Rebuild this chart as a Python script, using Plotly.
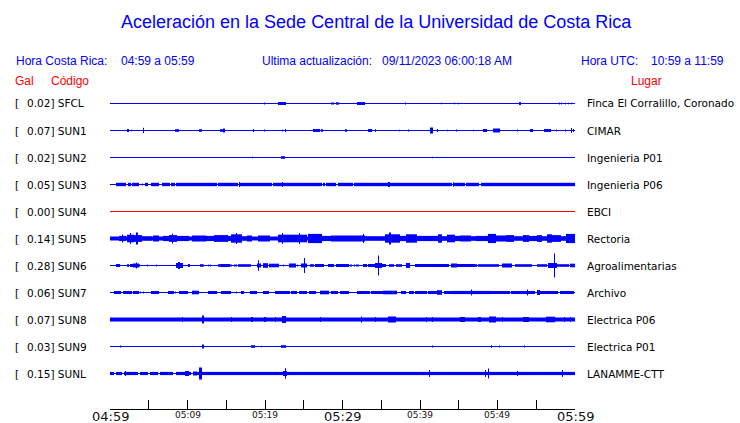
import plotly.graph_objects as go

# ---------------- data ----------------
codes = ["SFCL", "SUN1", "SUN2", "SUN3", "SUN4", "SUN5", "SUN6", "SUN7", "SUN8", "SUN9", "SUNL"]
gal = ["0.02", "0.07", "0.02", "0.05", "0.00", "0.14", "0.28", "0.06", "0.07", "0.03", "0.15"]
places = ["Finca El Corralillo, Coronado", "CIMAR", "Ingenieria P01", "Ingenieria P06", "EBCI",
          "Rectoria", "Agroalimentarias", "Archivo", "Electrica P06", "Electrica P01", "LANAMME-CTT"]

# background (continuous) half-amplitude of each record, relative units
base_amp = [0.5, 0.5, 0.5, 0.5, 0.5, 2.0, 0.5, 0.5, 2.0, 0.5, 1.6]

# events: (start minute, end minute after 04:59, half-amplitude)
ev_sfcl = [(19.9, 19.9, 1.0), (21.7, 22.7, 1.5), (28.6, 28.9, 1.0), (29.2, 29.5, 1.2), (31.9, 32.8, 1.5),
           (38.1, 38.1, 1.0), (42.8, 42.8, 0.8), (44.5, 44.5, 0.8), (45.0, 45.0, 0.8), (52.8, 53.0, 1.5),
           (58.0, 58.0, 1.0), (58.3, 58.3, 1.0), (58.8, 58.8, 0.8), (59.2, 59.2, 0.8), (59.5, 59.5, 0.8)]
ev_sun1 = [(2.2, 2.4, 1.5), (2.8, 2.8, 0.8), (4.3, 4.3, 2.7), (8.5, 8.9, 1.3), (11.6, 11.8, 1.3),
           (14.2, 14.5, 1.3), (14.6, 14.8, 2.0), (18.5, 18.5, 1.5), (19.9, 19.9, 1.0), (22.2, 22.2, 1.0),
           (22.6, 22.6, 1.5), (26.2, 27.0, 1.5), (27.3, 27.4, 1.3), (30.4, 30.5, 1.3), (33.4, 33.8, 1.5),
           (34.2, 34.2, 1.3), (37.3, 37.3, 0.8), (38.5, 38.5, 1.0), (41.3, 41.6, 3.0), (42.2, 42.3, 1.5),
           (43.5, 43.5, 0.8), (44.7, 44.7, 1.0), (46.9, 46.9, 0.8), (48.2, 48.6, 1.5), (49.5, 50.3, 2.0),
           (52.6, 52.6, 1.0), (54.2, 54.5, 1.5), (56.1, 56.9, 1.5), (57.6, 57.6, 1.0), (58.8, 58.8, 1.0),
           (59.5, 59.5, 2.5), (59.8, 59.8, 1.5)]
ev_sun2 = [(18.4, 18.4, 0.8), (22.1, 22.5, 1.3), (41.6, 41.6, 0.8)]
ev_sun3 = [(0.8, 2.0, 1.7), (2.4, 2.6, 1.7), (2.9, 3.1, 1.7), (3.2, 3.7, 1.7), (4.2, 4.2, 1.0),
           (4.6, 4.9, 1.7), (5.4, 5.7, 1.7), (5.9, 6.3, 1.7), (6.8, 7.7, 1.7), (7.9, 8.3, 1.7),
           (8.6, 9.9, 1.7), (10.0, 13.3, 1.7), (13.5, 13.8, 1.7), (14.0, 16.5, 1.7), (16.7, 16.7, 2.5),
           (16.8, 20.4, 1.7), (20.6, 20.9, 1.7), (21.1, 22.2, 1.7), (22.2, 22.2, 2.5), (22.4, 25.2, 1.7),
           (25.4, 27.3, 1.7), (27.5, 27.7, 1.7), (28.0, 28.4, 1.7), (28.6, 29.1, 1.7), (29.5, 31.3, 1.7),
           (31.6, 35.9, 1.7), (36.0, 36.0, 2.5), (36.1, 43.0, 1.7), (43.2, 44.1, 1.7), (44.3, 44.3, 2.3),
           (44.5, 45.8, 1.7), (46.0, 47.6, 1.7), (48.0, 51.2, 1.7), (51.3, 55.3, 1.7), (55.4, 60.0, 1.7)]
ev_sun4 = []
ev_sun5 = [(1.2, 2.0, 2.6), (1.6, 1.6, 4.0), (2.2, 3.0, 3.8), (2.6, 2.6, 5.5), (3.1, 4.1, 3.4), (3.4, 3.5, 6.0),
           (4.1, 5.4, 2.3), (5.6, 6.3, 3.0), (6.9, 7.7, 2.6), (7.7, 8.6, 3.4), (8.1, 8.1, 5.0),
           (8.6, 10.1, 2.6), (10.7, 12.3, 3.0), (12.3, 13.5, 2.6), (13.5, 15.1, 3.4), (15.1, 15.5, 2.6),
           (15.7, 17.0, 4.2), (16.3, 16.3, 5.5), (17.0, 17.8, 2.3), (17.8, 18.3, 3.0), (19.1, 20.6, 3.0),
           (21.7, 25.4, 3.8), (22.3, 22.3, 5.5), (24.5, 24.5, 5.5), (25.6, 27.3, 4.6), (27.3, 28.6, 2.6),
           (28.6, 30.8, 3.0), (30.8, 32.9, 3.0), (32.7, 32.7, 4.5), (32.9, 35.5, 2.3), (35.5, 37.4, 4.2),
           (36.1, 36.2, 6.0), (37.4, 38.3, 2.6), (38.3, 39.6, 4.2), (39.6, 42.4, 2.6), (42.4, 42.8, 4.2),
           (42.8, 43.6, 2.3), (43.6, 44.5, 3.8), (44.5, 46.1, 2.6), (45.2, 46.5, 3.0), (46.5, 47.3, 2.3),
           (47.3, 48.8, 2.6), (48.8, 49.7, 4.6), (49.7, 51.2, 3.0), (51.2, 52.0, 3.4), (52.0, 53.3, 2.3),
           (53.3, 54.0, 3.4), (54.0, 55.1, 2.6), (55.1, 55.7, 3.4), (55.7, 56.4, 2.3), (56.4, 57.0, 4.2),
           (57.0, 58.1, 3.4), (58.1, 58.9, 2.3), (58.9, 60.0, 4.6)]
ev_sun6 = [(0.9, 1.2, 1.5), (2.2, 2.4, 1.3), (2.6, 2.9, 1.5), (3.0, 3.7, 2.0), (3.4, 3.4, 3.0), (3.8, 3.8, 1.3),
           (4.8, 4.8, 1.0), (6.0, 6.0, 1.0), (8.6, 9.3, 2.5), (8.9, 9.0, 3.5), (10.1, 10.3, 1.5),
           (11.7, 11.9, 1.3), (12.1, 12.1, 1.0), (12.7, 12.7, 1.0), (13.0, 13.0, 1.0), (14.0, 14.2, 1.3),
           (14.4, 15.4, 1.5), (15.5, 15.7, 1.0), (16.1, 16.3, 1.0), (16.6, 18.1, 1.3), (19.0, 19.4, 2.0),
           (19.1, 19.1, 5.3), (19.8, 20.3, 2.3), (20.6, 21.7, 1.8), (22.4, 22.4, 1.0), (23.2, 23.9, 2.0),
           (24.2, 24.2, 1.0), (24.7, 25.4, 2.0), (25.1, 25.1, 7.5), (25.9, 26.2, 1.3), (26.5, 27.5, 1.5),
           (28.2, 28.8, 1.5), (29.2, 30.8, 1.5), (31.0, 31.2, 1.0), (31.6, 31.6, 1.0), (31.8, 32.0, 1.0),
           (32.7, 33.1, 1.5), (33.3, 35.5, 1.5), (34.3, 35.0, 2.5), (34.6, 34.6, 10.0), (36.1, 36.6, 1.3),
           (37.0, 37.6, 1.3), (38.3, 38.7, 2.5), (39.4, 41.7, 1.5), (41.9, 43.7, 1.5), (44.1, 44.7, 2.0),
           (44.9, 47.0, 1.5), (47.1, 47.3, 1.3), (47.5, 48.8, 1.3), (49.0, 50.1, 1.3), (50.7, 51.8, 2.0),
           (52.3, 54.4, 1.3), (55.1, 56.3, 1.3), (56.6, 57.6, 2.5), (57.3, 57.3, 12.0), (57.8, 59.1, 1.3),
           (59.4, 60.0, 1.8)]
ev_sun7 = [(0.6, 1.3, 1.5), (1.7, 2.8, 1.5), (3.0, 3.3, 1.5), (3.4, 3.7, 1.5), (3.9, 3.9, 1.0), (4.3, 4.3, 1.0),
           (5.3, 6.2, 1.5), (7.6, 8.2, 1.5), (8.4, 8.4, 1.0), (9.0, 10.0, 1.5), (10.7, 11.4, 1.8),
           (12.7, 13.8, 1.5), (14.4, 15.5, 1.5), (16.3, 16.3, 1.0), (17.0, 17.2, 1.5), (18.1, 18.9, 1.5),
           (19.8, 20.4, 1.5), (21.3, 21.7, 1.5), (21.9, 22.6, 1.5), (22.8, 23.2, 1.5), (23.4, 24.1, 1.5),
           (24.5, 25.4, 1.5), (25.8, 26.5, 1.5), (27.1, 28.2, 1.8), (28.6, 29.3, 1.5), (29.7, 30.8, 1.5),
           (32.0, 33.5, 1.5), (33.8, 35.1, 1.5), (35.3, 37.0, 1.8), (37.6, 38.1, 1.5), (38.7, 39.1, 1.5),
           (39.4, 40.0, 1.5), (40.2, 40.9, 1.5), (41.1, 42.2, 1.5), (42.2, 42.8, 2.3), (43.2, 44.1, 1.5),
           (44.1, 49.0, 1.6), (46.6, 46.6, 3.0), (49.0, 51.6, 1.5), (51.8, 53.8, 1.5), (53.9, 53.9, 3.0),
           (54.0, 54.8, 1.5), (55.1, 55.4, 2.5), (55.5, 57.8, 1.5), (58.1, 59.8, 1.5)]
ev_sun8 = [(9.3, 9.3, 2.5), (12.0, 12.0, 4.0), (15.7, 15.7, 2.5), (18.2, 18.2, 2.5), (18.4, 18.4, 2.5),
           (20.0, 20.0, 2.5), (21.3, 21.3, 2.5), (22.2, 22.6, 3.5), (27.2, 27.2, 2.5), (32.5, 32.5, 3.0),
           (34.3, 34.3, 2.5), (36.0, 36.8, 3.0), (40.8, 40.8, 2.5), (41.6, 41.6, 2.5), (45.2, 45.6, 2.5),
           (45.7, 45.7, 2.5), (47.5, 47.8, 2.5), (49.0, 49.8, 3.0), (50.7, 50.7, 2.5), (53.3, 54.0, 2.5),
           (56.3, 57.4, 2.8), (58.7, 58.7, 2.5), (59.4, 59.4, 2.5)]
ev_sun9 = [(1.4, 1.4, 1.0), (12.0, 12.0, 2.0), (18.3, 18.6, 1.3), (19.6, 19.6, 0.8), (22.1, 22.7, 1.3),
           (41.6, 41.6, 1.0), (49.2, 49.2, 1.3), (50.2, 50.2, 1.0), (53.5, 53.5, 1.0)]
ev_sunl = [(0.55, 0.73, 0.5), (1.6, 1.8, 0.5), (3.65, 3.87, 0.5), (4.94, 5.16, 0.5), (6.23, 6.45, 0.5),
           (8.17, 8.39, 0.5), (10.54, 10.75, 0.5),
           (2.0, 2.0, 2.5), (9.7, 10.1, 2.5), (10.8, 11.2, 2.0), (11.6, 11.8, 6.0), (22.4, 22.8, 2.5),
           (22.6, 22.6, 5.3), (41.2, 41.2, 3.5), (48.4, 48.4, 3.5), (48.9, 48.9, 5.0), (52.6, 52.6, 2.5),
           (58.4, 58.4, 3.5)]
events = [ev_sfcl, ev_sun1, ev_sun2, ev_sun3, ev_sun4, ev_sun5, ev_sun6, ev_sun7, ev_sun8, ev_sun9, ev_sunl]

tick_minutes = list(range(0, 61, 5))
tick_labels = ["04:59", "", "05:09", "", "05:19", "", "05:29", "", "05:39", "", "05:49", "", "05:59"]
major_labels = ["04:59", "05:29", "05:59"]

title_text = "Aceleración en la Sede Central de la Universidad de Costa Rica"

# ---------------- layout constants ----------------
W, H = 740, 423
X0, X1 = 110, 575          # plot x extent (px)
AXIS_Y = 409               # x-axis line (px from top)
ROW0, ROW_STEP = 103.5, 27
BLUE, RED = "#0000FF", "#FF0000"
row_colors = [BLUE, BLUE, BLUE, BLUE, RED, BLUE, BLUE, BLUE, BLUE, BLUE, BLUE]
NCOL = X1 - X0
T_END = 60.0

fig = go.Figure()

for i, code in enumerate(codes):
    yc = ROW0 + ROW_STEP * i
    col = row_colors[i]
    # horizontal trace line
    fig.add_trace(go.Scatter(x=[0, T_END], y=[yc, yc], mode="lines",
                             line=dict(color=col, width=1), hoverinfo="skip", showlegend=False))
    base = base_amp[i]
    half = T_END / NCOL / 2
    env = [base] * NCOL
    for (a, b, amp) in events[i]:
        for k in range(NCOL):
            t = (k + 0.5) * T_END / NCOL
            if a - half <= t <= b + half:
                env[k] = amp if amp < base else max(env[k], amp)
    xs, ys = [], []
    for k in range(NCOL):
        if env[k] > 0.5:
            t = (k + 0.5) * T_END / NCOL
            xs += [t, t, None]
            ys += [yc - env[k], yc + env[k], None]
    if xs:
        fig.add_trace(go.Scatter(x=xs, y=ys, mode="lines", line=dict(color=col, width=1),
                                 hoverinfo="skip", showlegend=False, connectgaps=False))

annotations = []


def txt(px, py, text, size, color, anchor="left", family="DejaVu Sans"):
    annotations.append(dict(x=px / W, y=1 - py / H, xref="paper", yref="paper", text=text,
                            showarrow=False, xanchor=anchor, yanchor="middle",
                            font=dict(family=family, size=size, color=color), borderpad=0))


LS = "Liberation Sans, Arial, sans-serif"
txt(376, 22, title_text, 18, BLUE, "center", LS)
txt(14.5, 61, "Hora Costa Rica:", 12, BLUE, "left", LS)
txt(119.5, 61, "04:59 a 05:59", 12, BLUE, "left", LS)
txt(261, 61, "Ultima actualización:", 12, BLUE, "left", LS)
txt(381, 61, "09/11/2023 06:00:18 AM", 12, BLUE, "left", LS)
txt(579.5, 61, "Hora UTC:", 12, BLUE, "left", LS)
txt(649.5, 61, "10:59 a 11:59", 12, BLUE, "left", LS)
txt(14, 81, "Gal", 12, RED, "left", LS)
txt(49.5, 81, "Código", 12, RED, "left", LS)
txt(629.5, 81, "Lugar", 12, RED, "left", LS)

for i, code in enumerate(codes):
    yc = ROW0 + ROW_STEP * i
    txt(14, yc, "[", 10.5, "black")
    txt(26, yc, gal[i] + "] " + code, 10.5, "black")
    txt(586, yc, places[i], 10.5, "black")

for tm, lab in zip(tick_minutes, tick_labels):
    if not lab:
        continue
    px = X0 + (X1 - X0) * tm / T_END
    if lab in major_labels:
        txt(px, 416.5, lab, 13, "#111111", "center")
    else:
        txt(px, 415, lab, 9, "#111111", "center")

fig.update_layout(
    width=W, height=H, margin=dict(l=0, r=0, t=0, b=0),
    paper_bgcolor="white", plot_bgcolor="white", showlegend=False,
    xaxis=dict(domain=[X0 / W, X1 / W], range=[0, T_END], showgrid=False, zeroline=False,
               showline=True, linecolor="black", linewidth=1, ticks="inside", ticklen=9,
               tickwidth=1, tickcolor="black", tickvals=tick_minutes, showticklabels=False,
               fixedrange=True),
    yaxis=dict(domain=[(H - AXIS_Y) / H, 1], range=[AXIS_Y, 0], visible=False, fixedrange=True),
    annotations=annotations,
)

fig.write_html("out.html", config={"displayModeBar": False},
               post_script="document.body.style.margin='0';document.body.style.overflow='hidden';")
